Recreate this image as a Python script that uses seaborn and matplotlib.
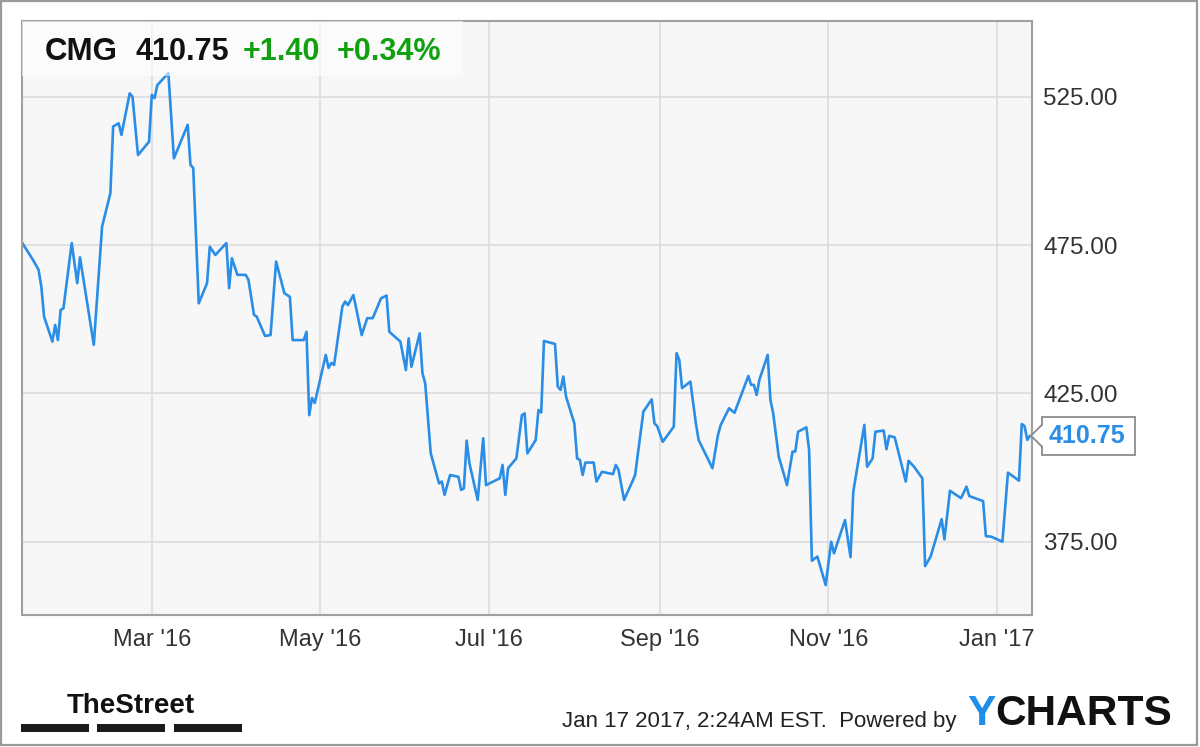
import matplotlib
matplotlib.use("Agg")
import matplotlib.pyplot as plt
import matplotlib.dates as mdates
from matplotlib.patches import Rectangle, Polygon
from matplotlib.lines import Line2D
import pandas as pd
import seaborn as sns

# Dados (CMG, fechamento diário aproximado)
datas = [
    "2016-01-14", "2016-01-18", "2016-01-20", "2016-01-21", "2016-01-22", "2016-01-25",
    "2016-01-26", "2016-01-27", "2016-01-28", "2016-01-29", "2016-02-01", "2016-02-03",
    "2016-02-04", "2016-02-09", "2016-02-12", "2016-02-15", "2016-02-16", "2016-02-18",
    "2016-02-19", "2016-02-22", "2016-02-23", "2016-02-25", "2016-02-29", "2016-03-01",
    "2016-03-02", "2016-03-03", "2016-03-07", "2016-03-09", "2016-03-14", "2016-03-15",
    "2016-03-16", "2016-03-18", "2016-03-21", "2016-03-22", "2016-03-24", "2016-03-28",
    "2016-03-29", "2016-03-30", "2016-04-01", "2016-04-04", "2016-04-05", "2016-04-07",
    "2016-04-08", "2016-04-11", "2016-04-13", "2016-04-15", "2016-04-18", "2016-04-20",
    "2016-04-21", "2016-04-25", "2016-04-26", "2016-04-27", "2016-04-28", "2016-04-29",
    "2016-05-03", "2016-05-04", "2016-05-05", "2016-05-06", "2016-05-09", "2016-05-10",
    "2016-05-11", "2016-05-13", "2016-05-16", "2016-05-18", "2016-05-20", "2016-05-23",
    "2016-05-25", "2016-05-26", "2016-05-30", "2016-06-01", "2016-06-02", "2016-06-03",
    "2016-06-06", "2016-06-07", "2016-06-08", "2016-06-10", "2016-06-13", "2016-06-14",
    "2016-06-15", "2016-06-17", "2016-06-20", "2016-06-21", "2016-06-22", "2016-06-23",
    "2016-06-24", "2016-06-27", "2016-06-29", "2016-06-30", "2016-07-05", "2016-07-06",
    "2016-07-07", "2016-07-08", "2016-07-11", "2016-07-13", "2016-07-14", "2016-07-15",
    "2016-07-18", "2016-07-19", "2016-07-20", "2016-07-21", "2016-07-25", "2016-07-26",
    "2016-07-27", "2016-07-28", "2016-07-29", "2016-08-01", "2016-08-02", "2016-08-03",
    "2016-08-04", "2016-08-05", "2016-08-08", "2016-08-09", "2016-08-11", "2016-08-15",
    "2016-08-16", "2016-08-17", "2016-08-19", "2016-08-22", "2016-08-23", "2016-08-26",
    "2016-08-29", "2016-08-30", "2016-08-31", "2016-09-02", "2016-09-06", "2016-09-07",
    "2016-09-08", "2016-09-09", "2016-09-12", "2016-09-14", "2016-09-15", "2016-09-20",
    "2016-09-22", "2016-09-23", "2016-09-26", "2016-09-28", "2016-10-03", "2016-10-04",
    "2016-10-05", "2016-10-06", "2016-10-07", "2016-10-10", "2016-10-11", "2016-10-12",
    "2016-10-14", "2016-10-17", "2016-10-19", "2016-10-20", "2016-10-21", "2016-10-24",
    "2016-10-25", "2016-10-26", "2016-10-28", "2016-10-31", "2016-11-02", "2016-11-03",
    "2016-11-07", "2016-11-09", "2016-11-10", "2016-11-14", "2016-11-15", "2016-11-17",
    "2016-11-18", "2016-11-21", "2016-11-22", "2016-11-23", "2016-11-25", "2016-11-29",
    "2016-11-30", "2016-12-02", "2016-12-05", "2016-12-06", "2016-12-08", "2016-12-12",
    "2016-12-13", "2016-12-15", "2016-12-19", "2016-12-21", "2016-12-22", "2016-12-27",
    "2016-12-28", "2016-12-30", "2017-01-03", "2017-01-05", "2017-01-09", "2017-01-10",
    "2017-01-11", "2017-01-12", "2017-01-13",
]
precos = [
    475.9, 470.0, 466.7, 461.0, 450.9, 442.5,
    448.1, 443.0, 453.2, 453.7, 475.7, 462.2,
    470.9, 441.4, 481.3, 492.5, 515.0, 516.1,
    512.2, 526.2, 525.1, 505.4, 509.9, 525.7,
    524.6, 529.0, 533.0, 504.3, 515.6, 502.1,
    501.0, 455.4, 462.2, 474.5, 471.7, 475.7,
    460.5, 470.6, 465.0, 465.0, 463.3, 451.5,
    450.9, 444.4, 444.7, 469.5, 458.8, 457.6,
    443.0, 443.0, 445.8, 417.7, 423.5, 421.8,
    438.0, 433.6, 435.3, 434.6, 454.3, 456.0,
    454.8, 458.2, 444.7, 450.4, 450.4, 457.1,
    458.0, 445.8, 442.5, 432.9, 443.6, 434.0,
    445.3, 431.8, 428.4, 404.8, 394.7, 395.3,
    390.8, 397.5, 396.9, 392.5, 393.0, 409.1,
    401.5, 389.1, 409.9, 394.1, 396.4, 400.9,
    390.8, 399.8, 403.1, 417.7, 418.3, 404.8,
    409.3, 419.4, 418.6, 442.7, 441.7, 427.3,
    426.2, 430.7, 423.9, 414.9, 403.1, 402.6,
    397.5, 401.7, 401.7, 395.3, 398.6, 397.8,
    400.9, 399.2, 389.1, 395.3, 397.5, 418.9,
    423.0, 414.9, 414.0, 408.7, 413.8, 438.6,
    436.3, 426.8, 429.0, 414.9, 409.3, 399.8,
    411.0, 414.4, 420.0, 418.5, 430.9, 427.9,
    427.9, 424.5, 429.6, 438.0, 422.8, 418.3,
    403.7, 394.1, 405.4, 405.4, 412.1, 413.6,
    405.9, 368.6, 370.0, 360.4, 375.0, 371.1,
    382.3, 369.8, 391.9, 414.4, 400.3, 403.1,
    412.1, 412.5, 406.2, 410.7, 410.2, 395.3,
    402.3, 400.3, 396.4, 366.8, 370.0, 382.6,
    375.8, 392.2, 389.7, 393.6, 390.4, 388.7,
    376.9, 376.7, 375.0, 398.3, 395.6, 414.7,
    414.0, 409.35, 410.75,
]
ticks_y = [375, 425, 475, 525]
simbolo = "CMG"
rodape = "Jan 17 2017, 2:24AM EST.  Powered by"

df = pd.DataFrame({"data": pd.to_datetime(datas), "preco": precos})

sns.set_style("white")
plt.rcParams["font.family"] = ["Liberation Sans", "DejaVu Sans"]

W, H = 1200, 747
fig = plt.figure(figsize=(W / 100, H / 100), dpi=100)


def fx(x):
    return x / W


def fy(y):
    return 1 - y / H


# área do gráfico (pixels medidos na imagem)
ax = fig.add_axes([fx(22), fy(615), 1010 / W, 594 / H])
ax.set_facecolor("#f7f7f7")

azul = "#2a8de6"
sns.lineplot(data=df, x="data", y="preco", ax=ax, color=azul, linewidth=1.9, zorder=2)

ax.set_xlim(df["data"].iloc[0], df["data"].iloc[-1] + pd.Timedelta(hours=17))
ax.set_ylim(350.3, 550.6)
ax.set_xlabel("")
ax.set_ylabel("")

ax.xaxis.set_major_locator(mdates.MonthLocator(bymonth=[1, 3, 5, 7, 9, 11]))
ax.xaxis.set_major_formatter(mdates.DateFormatter("%b '%y"))
ax.set_yticks(ticks_y)
ax.set_yticklabels([f"{v:.2f}" for v in ticks_y])
ax.yaxis.tick_right()
ax.tick_params(axis="y", length=0, pad=8, labelsize=17.5, labelcolor="#333333")
ax.tick_params(axis="x", length=0, pad=10, labelsize=17, labelcolor="#333333")
ax.grid(True, color="#dadada", linewidth=1.1, zorder=0)
for s in ax.spines.values():
    s.set_color("#a0a0a0")
    s.set_linewidth(1.5)

# caixa do cabeçalho
ax.add_patch(Rectangle((0, 1 - 55 / 594), 441 / 1010, 55 / 594, transform=ax.transAxes,
                       facecolor="white", alpha=0.55, edgecolor="none", zorder=3))
ultimo = precos[-1]
variacao = precos[-1] - precos[-2]
pct = variacao / precos[-2] * 100
base = fy(60)
fig.text(fx(45), base, simbolo, fontsize=22.5, fontweight="bold", color="#111111", va="baseline")
fig.text(fx(135), base, f"{ultimo:.2f}", fontsize=22, fontweight="bold", color="#111111", va="baseline")
fig.text(fx(243), base, f"{variacao:+.2f}", fontsize=22, fontweight="bold", color="#10a010", va="baseline")
fig.text(fx(337), base, f"{pct:+.2f}%", fontsize=22, fontweight="bold", color="#10a010", va="baseline")

# etiqueta do último preço
yd = ax.transData.transform((mdates.date2num(df["data"].iloc[-1]), ultimo))[1]
yc = H - yd  # em pixels a partir do topo
fig.patches.append(Rectangle((fx(1042), fy(yc + 19)), 93 / W, 38 / H, transform=fig.transFigure,
                             facecolor="white", edgecolor="#8c8c8c", linewidth=1.3))
fig.patches.append(Polygon([(fx(1043.5), fy(yc - 11)), (fx(1031), fy(yc)), (fx(1043.5), fy(yc + 11))],
                           closed=True, transform=fig.transFigure, facecolor="white", edgecolor="none"))
fig.lines.append(Line2D([fx(1042), fx(1031), fx(1042)], [fy(yc - 11), fy(yc), fy(yc + 11)],
                        transform=fig.transFigure, color="#8c8c8c", linewidth=1.3))
fig.text(fx(1087), fy(yc), f"{ultimo:.2f}", fontsize=18, fontweight="bold", color=azul,
         ha="center", va="center")

# rodapé: TheStreet
fig.text(fx(131), fy(713), "TheStreet", fontsize=20, fontweight="bold",
         family=["Liberation Sans Narrow", "Liberation Sans", "DejaVu Sans"],
         color="#111111", ha="center", va="baseline")
for x0, x1 in [(21, 89), (97, 165), (174, 242)]:
    fig.patches.append(Rectangle((fx(x0), fy(732)), (x1 - x0) / W, 8 / H, transform=fig.transFigure,
                                 facecolor="#1a1a1a", edgecolor="none"))

# rodapé: data e YCHARTS
fig.text(fx(562), fy(727), rodape, fontsize=16, color="#222222", va="baseline")
t_y = fig.text(fx(967), fy(725), "Y", fontsize=30.5, fontweight="bold", color="#1e8ee8", va="baseline")
fig.canvas.draw()
bb = t_y.get_window_extent()
fig.text(bb.x1 / W, fy(725), "CHARTS", fontsize=30.5, fontweight="bold", color="#111111", va="baseline")

# borda externa
fig.patches.append(Rectangle((fx(1), fy(745)), 1196 / W, 744 / H, transform=fig.transFigure,
                             fill=False, edgecolor="#9a9a9a", linewidth=1.6))

fig.savefig("out.png", dpi=100, facecolor="white")
